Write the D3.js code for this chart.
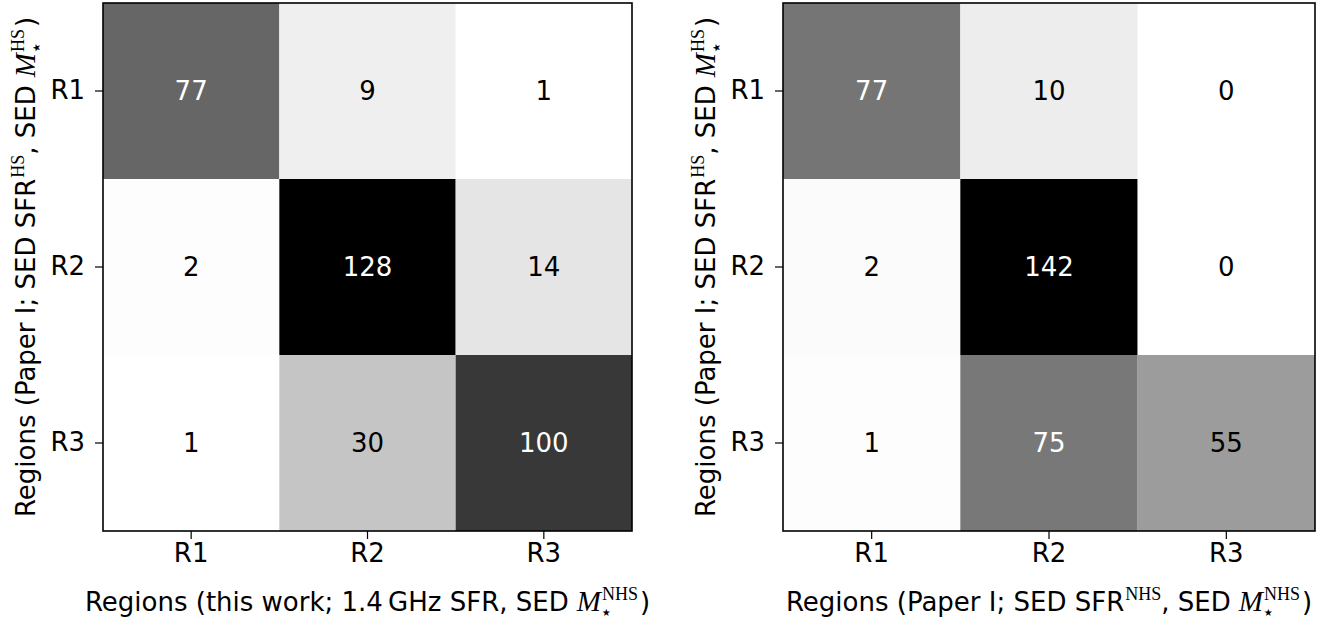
<!DOCTYPE html>
<html>
<head>
<meta charset="utf-8">
<script src="https://cdn.jsdelivr.net/npm/d3@7"></script>
<style>
  body { margin: 0; background: #fff; }
  text { font-family: "DejaVu Sans", "Liberation Sans", sans-serif; }
</style>
</head>
<body>
<div id="chart-area"></div>
<script>
// regions along both axes
var regions = ["R1", "R2", "R3"];

// left matrix: rows = Paper I (HS), cols = this work
var leftRow1 = [77, 9, 1];
var leftRow2 = [2, 128, 14];
var leftRow3 = [1, 30, 100];

// right matrix: rows = Paper I (HS), cols = Paper I (NHS)
var rightRow1 = [77, 10, 0];
var rightRow2 = [2, 142, 0];
var rightRow3 = [1, 75, 55];

var W = 1334, H = 623;
var svg = d3.select("#chart-area").append("svg")
    .attr("width", W)
    .attr("height", H);

var fs = 26;
var serif = "'Liberation Serif', 'DejaVu Serif', serif";

// math bits: italic M with star subscript and roman superscript
// returns the dx/dy the next tspan needs to get back on the baseline
function addMath(txt, base, sup, sub) {
    if (base == "M") {
        txt.append("tspan")
            .attr("dx", 8)
            .attr("font-family", serif)
            .attr("font-style", "italic")
            .attr("font-size", fs + 3)
            .text("M");
    } else {
        txt.append("tspan").text(" " + base);
    }
    var supSpan = txt.append("tspan")
        .attr("font-family", serif)
        .attr("font-size", 18)
        .attr("dx", 1)
        .attr("dy", -11)
        .text(sup);
    if (sub) {
        var w = supSpan.node().getComputedTextLength();
        var subSpan = txt.append("tspan")
            .attr("font-family", "'DejaVu Sans', sans-serif")
            .attr("font-size", 20)
            .attr("dx", -w - 2)
            .attr("dy", 19)
            .text(sub);
        var w2 = subSpan.node().getComputedTextLength();
        return {dx: w - w2 + 4, dy: -8};
    }
    return {dx: 0, dy: 11};
}

function drawPanel(x0, x1, rows, xlabel) {
    var g = svg.append("g");
    var y0 = 3, y1 = 531;

    var x = d3.scaleBand().domain(regions).range([x0, x1]);
    var y = d3.scaleBand().domain(regions).range([y0, y1]);

    var flat = [];
    rows.forEach(function(r, i) {
        r.forEach(function(v, j) {
            flat.push({row: regions[i], col: regions[j], v: v});
        });
    });
    var vmin = d3.min(flat, function(d) { return d.v; });
    var vmax = d3.max(flat, function(d) { return d.v; });
    var color = d3.scaleLinear().domain([vmin, vmax]).range(["#ffffff", "#000000"]);
    var thresh = (vmin + vmax) / 2;

    g.selectAll("rect.cell")
        .data(flat)
        .enter().append("rect")
        .attr("class", "cell")
        .attr("x", function(d) { return x(d.col); })
        .attr("y", function(d) { return y(d.row); })
        .attr("width", x.bandwidth())
        .attr("height", y.bandwidth())
        .attr("fill", function(d) { return color(d.v); });

    g.selectAll("text.val")
        .data(flat)
        .enter().append("text")
        .attr("class", "val")
        .attr("x", function(d) { return x(d.col) + x.bandwidth() / 2; })
        .attr("y", function(d) { return y(d.row) + y.bandwidth() / 2; })
        .attr("dy", "0.36em")
        .attr("text-anchor", "middle")
        .attr("font-size", fs)
        .attr("fill", function(d) { return d.v > thresh ? "#fff" : "#000"; })
        .text(function(d) { return d.v; });

    var xAxis = g.append("g")
        .attr("transform", "translate(0," + y1 + ")")
        .call(d3.axisBottom(x).tickSize(8).tickPadding(5));
    var yAxis = g.append("g")
        .attr("transform", "translate(" + x0 + ",0)")
        .call(d3.axisLeft(y).tickSize(8).tickPadding(10));
    [xAxis, yAxis].forEach(function(a) {
        a.select(".domain").remove();
        a.selectAll("line").attr("stroke", "#000").attr("stroke-width", 1.2);
        a.selectAll("text")
            .attr("font-size", fs)
            .attr("font-family", "'DejaVu Sans', sans-serif")
            .attr("fill", "#000");
    });

    g.append("rect")
        .attr("x", x0).attr("y", y0)
        .attr("width", x1 - x0).attr("height", y1 - y0)
        .attr("fill", "none")
        .attr("stroke", "#000")
        .attr("stroke-width", 1.6);

    // x label
    var xl = g.append("text")
        .attr("x", (x0 + x1) / 2)
        .attr("y", 611)
        .attr("text-anchor", "middle")
        .attr("font-size", fs);
    xlabel(xl);

    // y label
    var yl = g.append("text")
        .attr("transform", "translate(" + (x0 - 68) + "," + ((y0 + y1) / 2) + ") rotate(-90)")
        .attr("text-anchor", "middle")
        .attr("font-size", fs);
    yl.append("tspan").text("Regions (Paper I; SED");
    var b = addMath(yl, "SFR", "HS", null);
    yl.append("tspan").attr("dy", b.dy).attr("dx", b.dx).text(", SED");
    b = addMath(yl, "M", "HS", "\u22c6");
    yl.append("tspan").attr("dy", b.dy).attr("dx", b.dx).text(")");
}

drawPanel(103, 632, [leftRow1, leftRow2, leftRow3], function(t) {
    t.append("tspan").text("Regions (this work; 1.4\u2009GHz SFR, SED");
    var b = addMath(t, "M", "NHS", "\u22c6");
    t.append("tspan").attr("dy", b.dy).attr("dx", b.dx).text(")");
});

drawPanel(783, 1315, [rightRow1, rightRow2, rightRow3], function(t) {
    t.append("tspan").text("Regions (Paper I; SED");
    var b = addMath(t, "SFR", "NHS", null);
    t.append("tspan").attr("dy", b.dy).attr("dx", b.dx).text(", SED");
    b = addMath(t, "M", "NHS", "\u22c6");
    t.append("tspan").attr("dy", b.dy).attr("dx", b.dx).text(")");
});
</script>
</body>
</html>
